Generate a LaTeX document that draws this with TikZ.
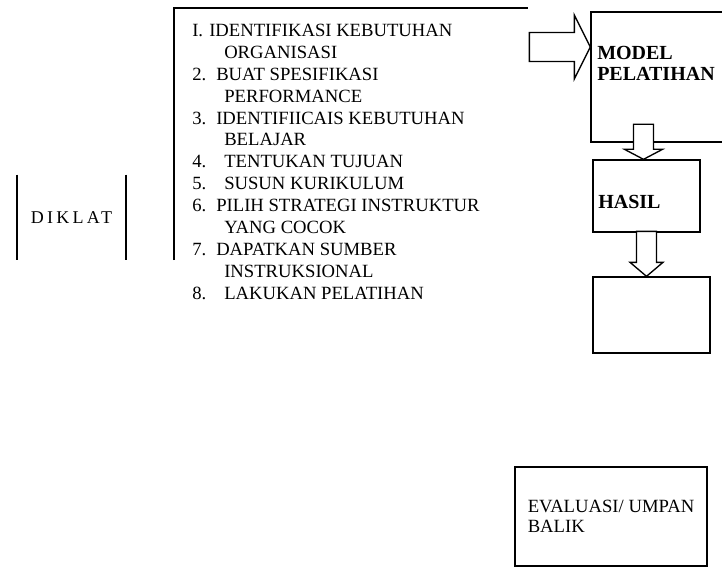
\documentclass[tikz,border=0pt]{standalone}
\usepackage{fontspec}
\setmainfont{Liberation Serif}
\newfontfamily\renggang[LetterSpace=18]{Liberation Serif}
\usetikzlibrary{positioning}

\tikzset{
  kotak/.style={draw, line width=1pt, rectangle, inner sep=0pt},
  teks/.style={inner sep=0pt, align=left, font=\fontsize{14}{16.4}\selectfont},
  judul/.style={inner sep=0pt, align=left, font=\fontsize{15}{15.5}\selectfont\bfseries},
  blok/.style={draw, fill=white, line width=1pt, line join=miter},
  batang/.style={line width=1.2pt},
}

\begin{document}
\begin{tikzpicture}[x=0.75pt, y=-0.75pt]
    \clip (0,0) rectangle (722,567);

    % diklat
    \node[minimum width=81.75pt, minimum height=63.75pt, font={\renggang\fontsize{13.5}{16}\selectfont}] (diklat) at (71.5,217.5) {DIKLAT};
    \draw[batang] (diklat.north west) -- (diklat.south west);
    \draw[batang] (diklat.north east) -- (diklat.south east);

    % langkah-langkah
    \draw[line width=1.1pt] (174,260) -- (174,8) -- (528,8);
    \node[teks, anchor=north west] (langkah) at (192,24) {%
        \makebox[12.75pt][l]{I.}IDENTIFIKASI KEBUTUHAN\\
        \hspace*{24pt}ORGANISASI\\
        \makebox[18pt][l]{2.}BUAT SPESIFIKASI\\
        \hspace*{24pt}PERFORMANCE\\
        \makebox[18pt][l]{3.}IDENTIFIICAIS KEBUTUHAN\\
        \hspace*{24pt}BELAJAR\\
        \makebox[24pt][l]{4.}TENTUKAN TUJUAN\\
        \makebox[24pt][l]{5.}SUSUN KURIKULUM\\
        \makebox[18pt][l]{6.}PILIH STRATEGI INSTRUKTUR\\
        \hspace*{24pt}YANG COCOK\\
        \makebox[18pt][l]{7.}DAPATKAN SUMBER\\
        \hspace*{24pt}INSTRUKSIONAL\\
        \makebox[24pt][l]{8.}LAKUKAN PELATIHAN};

    % kotak kanan
    \node[kotak, minimum width=111.75pt, minimum height=97.5pt] (model) at (665.5,77) {};
    \node[judul, anchor=north west] (modelteks) at (597,46) {MODEL\\PELATIHAN};
    \node[kotak, minimum width=80.25pt, minimum height=54pt] (hasil) at (646.5,196) {};
    \node[judul, anchor=west] (hasilteks) at (598,202) {HASIL};
    \node[kotak, minimum width=87.75pt, minimum height=57pt] (kosong) at (651.5,315) {};
    \node[kotak, minimum width=144pt, minimum height=74.25pt, align=left, font=\fontsize{14}{15}\selectfont] (evaluasi) at (611,516.5) {EVALUASI/ UMPAN\\BALIK};

    % panah blok
    \coordinate (ujung) at (model.west |- 0,47);
    \draw[blok] (ujung) -- ++(-16,-32) -- ++(0,17.5) -- ++(-45,0) -- ++(0,29) -- ++(45,0) -- ++(0,17.5) -- cycle;
    \draw[blok] ([xshift=-2.25pt]hasil.north) -- ++(-19,-10) -- ++(9,0) -- ++(0,-25) -- ++(20,0) -- ++(0,25) -- ++(9,0) -- cycle;
    \draw[blok] (hasil.south |- kosong.north) -- ++(-16.5,-14) -- ++(6.5,0) -- ++(0,-31) -- ++(20,0) -- ++(0,31) -- ++(6.5,0) -- cycle;
\end{tikzpicture}
\end{document}
